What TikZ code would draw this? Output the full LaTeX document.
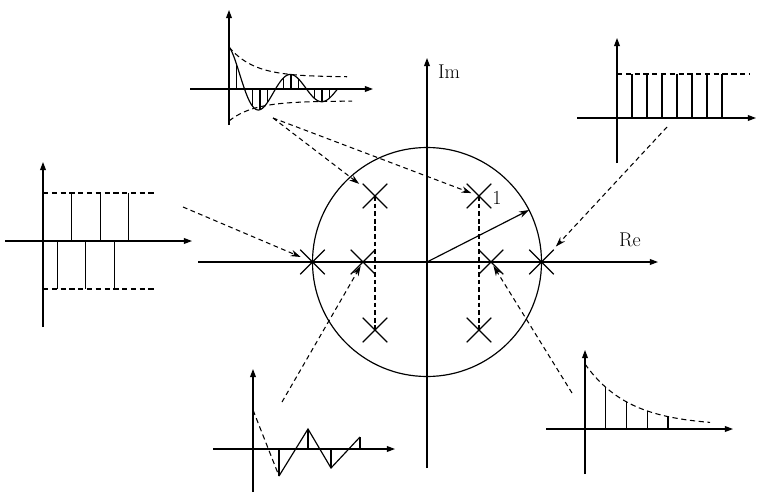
\documentclass[tikz,border=0pt]{standalone}
\usetikzlibrary{arrows.meta, shapes.misc}
\tikzset{
  >={Stealth[length=8.5pt, width=5.5pt]},
  axis/.style={->, line width=1pt, >={Triangle[length=7pt, width=5pt]}},
  stem/.style={line width=1pt},
  env/.style={line width=0.9pt, dash pattern=on 4.5pt off 3pt},
  link/.style={->, line width=0.9pt, dash pattern=on 4pt off 3pt},
  pairline/.style={line width=0.9pt, dash pattern=on 4pt off 2.5pt},
  pole/.style={cross out, draw, line width=1pt, minimum size=20pt, inner sep=0pt},
  lbl/.style={font=\fontsize{17}{20}\selectfont, inner sep=0pt},
}
\begin{document}
\begin{tikzpicture}[x=0.03cm, y=0.03cm,
  declare function={envu(\t)=12+30*exp(-\t/25); envl(\t)=-(12+20*exp(-\t/25));
    osc(\t)=envu(\t)*cos(\t*5.80645); dec(\t)=3+62*exp(-\t/44);}]
\useasboundingbox (0,0) rectangle (758,492);

% z-plane with unit circle
\coordinate (o) at (427,230);
\coordinate (xl) at (198,230);
\coordinate (xr) at (658,230);
\coordinate (yb) at (427,24);
\coordinate (yt) at (427,434);
\draw[line width=1pt] (o) circle[radius=114.5];
\draw[axis] (xl) -- (xr);
\draw[axis] (yb) -- (yt);
\node[lbl] (re) at (630,252) {Re};
\node[lbl] (im) at (449,420) {Im};
\draw[->, line width=1pt] (o) -- ++(27:114.5) coordinate (rad);
\node[lbl] (one) at (497,294) {1};

% poles
\node[pole] (p1) at (312.5,230) {};
\node[pole] (p2) at (363,230) {};
\node[pole] (p3) at (375,296) {};
\node[pole] (p4) at (375,162) {};
\node[pole] (p5) at (479,296) {};
\node[pole] (p6) at (479,162) {};
\node[pole] (p7) at (491,230) {};
\node[pole] (p8) at (541.5,230) {};
\draw[pairline] (p3.center) -- (p4.center);
\draw[pairline] (p5.center) -- (p6.center);

% where the arrows start
\coordinate (s1) at (273,374);
\coordinate (s3) at (183,285);
\coordinate (s4) at (282,90);
\coordinate (s5) at (667,365);
\coordinate (s6) at (572,99);
\draw[link, shorten >=17pt] (s1) -- (p3.center);
\draw[link, shorten >=7pt] (s1) -- (p5.center);
\draw[link, shorten >=11pt] (s3) -- (p1.center);
\draw[link, shorten >=4pt] (s4) -- (p2.center);
\draw[link, shorten >=18pt] (s5) -- (p8.center);
\draw[link, shorten >=4pt] (s6) -- (p7.center);

% damped oscillation (top left)
\begin{scope}[shift={(229,403)}]
  \draw[axis] (-39,0) -- (144,0);
  \draw[axis] (0,-36) -- (0,79);
  \draw[env] plot[domain=0:118, samples=60] (\x, {envu(\x)});
  \draw[env] plot[domain=0:123, samples=60] (\x, {envl(\x)});
  \draw[stem] plot[domain=0:108.5, samples=120, smooth] (\x, {osc(\x)});
  \foreach \k in {1,...,13}
    \draw[stem] (7.75*\k,0) -- (7.75*\k, {osc(7.75*\k)});
\end{scope}

% step (top right)
\begin{scope}[shift={(617,374)}]
  \draw[axis] (-40,0) -- (139,0);
  \draw[axis] (0,-45) -- (0,80);
  \draw[env] (0,44) -- (133,44);
  \foreach \k in {1,...,7}
    \draw[stem] (15*\k,0) -- (15*\k,44);
\end{scope}

% alternating (left)
\begin{scope}[shift={(43,251)}]
  \draw[axis] (-38,0) -- (149,0);
  \draw[axis] (0,-86) -- (0,79);
  \draw[env] (0,48) -- (112,48);
  \draw[env] (0,-48) -- (112,-48);
  \foreach \k in {0,2,4,6}
    \draw[stem] (14.3*\k,0) -- (14.3*\k,48);
  \foreach \k in {1,3,5}
    \draw[stem] (14.3*\k,0) -- (14.3*\k,-48);
\end{scope}

% alternating decay (bottom)
\begin{scope}[shift={(253,43)}]
  \draw[axis] (-40,0) -- (142,0);
  \draw[axis] (0,-43) -- (0,80);
  \draw[env] (0,39) -- (26,-27);
  \draw[stem] (26,-27) -- (55,20) -- (78,-19) -- (107,12);
  \foreach \t/\v in {26/-27, 55/20, 78/-19, 107/12}
    \draw[stem] (\t,0) -- (\t,\v);
\end{scope}

% decay (bottom right)
\begin{scope}[shift={(585,63)}]
  \draw[axis] (-39,0) -- (148,0);
  \draw[axis] (0,-45) -- (0,79);
  \draw[env] plot[domain=0:125, samples=50] (\x, {dec(\x)});
  \foreach \k in {1,...,4}
    \draw[stem] (20.75*\k,0) -- (20.75*\k, {dec(20.75*\k)});
\end{scope}
\end{tikzpicture}
\end{document}
